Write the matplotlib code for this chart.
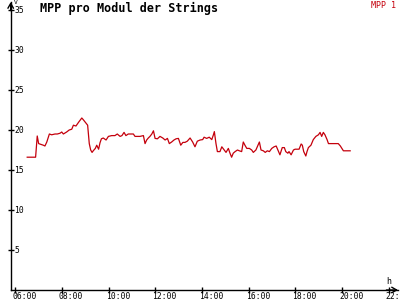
import matplotlib
matplotlib.use("Agg")
import matplotlib.pyplot as plt
import matplotlib.transforms as mtransforms

# Uhrzeit (Stunden) und MPP-Spannung
hours = [6.51, 6.87, 6.92, 6.94, 7.00, 7.10, 7.20, 7.27, 7.35, 7.46, 7.56, 7.70, 7.80, 7.92,
         7.99, 8.06, 8.20, 8.31, 8.42, 8.49, 8.60, 8.72, 8.85, 8.91, 9.02, 9.10, 9.17, 9.23,
         9.29, 9.34, 9.43, 9.49, 9.57, 9.63, 9.69, 9.77, 9.89, 9.99, 10.13, 10.27, 10.37,
         10.49, 10.57, 10.66, 10.74, 10.84, 11.06, 11.13, 11.34, 11.49, 11.56, 11.63, 11.70,
         11.77, 11.85, 11.92, 11.99, 12.09, 12.20, 12.32, 12.42, 12.52, 12.60, 12.70, 12.80,
         12.89, 12.99, 13.09, 13.18, 13.27, 13.37, 13.49, 13.60, 13.70, 13.80, 13.92, 14.03,
         14.09, 14.20, 14.31, 14.42, 14.49, 14.53, 14.60, 14.66, 14.77, 14.85, 14.95, 15.03,
         15.13, 15.20, 15.27, 15.34, 15.42, 15.52, 15.60, 15.70, 15.77, 15.84, 15.92, 16.03,
         16.13, 16.20, 16.31, 16.46, 16.53, 16.63, 16.71, 16.80, 16.89, 16.99, 17.09, 17.18,
         17.27, 17.34, 17.44, 17.53, 17.59, 17.68, 17.73, 17.82, 17.92, 17.99, 18.16, 18.25,
         18.30, 18.36, 18.45, 18.50, 18.56, 18.67, 18.77, 18.88, 18.99, 19.06, 19.13, 19.20,
         19.27, 19.36, 19.42, 19.84, 19.93, 20.06, 20.35]
mpp = [16.6, 16.6, 18.5, 19.25, 18.3, 18.2, 18.1, 18.0, 18.5, 19.5, 19.4, 19.5, 19.5, 19.6,
       19.75, 19.5, 19.75, 20.0, 20.1, 20.6, 20.5, 21.0, 21.5, 21.3, 20.9, 20.6, 18.3, 17.5,
       17.2, 17.4, 17.7, 18.1, 17.6, 18.4, 18.9, 19.0, 18.75, 19.2, 19.3, 19.3, 19.5,
       19.2, 19.3, 19.7, 19.3, 19.5, 19.5, 19.2, 19.2, 19.3, 18.3, 18.75, 19.0,
       19.2, 19.5, 19.9, 18.95, 18.9, 19.2, 19.0, 18.75, 18.95, 18.3, 18.5, 18.75,
       18.9, 18.95, 18.1, 18.45, 18.45, 18.6, 19.0, 18.5, 17.9, 18.6, 18.75, 18.8,
       19.1, 18.95, 19.1, 18.8, 19.4, 19.8, 18.3, 17.3, 17.3, 17.9, 17.5, 17.2,
       17.7, 17.1, 16.6, 17.1, 17.3, 17.5, 17.4, 17.3, 18.5, 18.1, 17.7, 17.7,
       17.5, 17.2, 17.5, 18.5, 17.5, 17.4, 17.2, 17.4, 17.3, 17.7, 17.9, 18.0,
       17.4, 16.9, 17.8, 17.8, 17.3, 17.1, 17.3, 16.9, 17.5, 17.6, 17.6, 18.25,
       18.1, 17.3, 16.75, 17.3, 17.8, 18.1, 18.8, 19.2, 19.4, 19.7, 19.2, 19.7,
       19.4, 18.8, 18.3, 18.3, 18.0, 17.4, 17.4]

xticks = [6, 8, 10, 12, 14, 16, 18, 20, 22]
xticklabels = ["06:00", "08:00", "10:00", "12:00", "14:00", "16:00", "18:00", "20:00", "22:00"]
yticks = [5, 10, 15, 20, 25, 30, 35]

mono = "DejaVu Sans Mono"
red = "#c4000c"

fig = plt.figure(figsize=(4, 3), dpi=100)
ax = fig.add_axes([10.7 / 400, 10 / 300, (398 - 10.7) / 400, 288 / 300])
ax.set_xlim(5.803, 22.40)
ax.set_ylim(0, 36)

ax.plot(hours, mpp, color=red, linewidth=0.9)

for s in ["top", "right"]:
    ax.spines[s].set_visible(False)
for s in ["left", "bottom"]:
    ax.spines[s].set_linewidth(1.0)

ax.set_xticks(xticks)
ax.set_yticks(yticks)
ax.set_xticklabels([])
ax.set_yticklabels([])
ax.tick_params(direction="inout", length=5, width=1, color="black")

# Beschriftungen der Achsen
off = mtransforms.ScaledTranslation(-3 / 100, -2 / 100, fig.dpi_scale_trans)
for t, lab in zip(xticks, xticklabels):
    ax.text(t, 0, lab, transform=ax.transData + off, ha="left", va="top",
            fontsize=5.8, family=mono, clip_on=False)
yoff = mtransforms.ScaledTranslation(3.5 / 100, -0.5 / 100, fig.dpi_scale_trans)
btr = mtransforms.blended_transform_factory(ax.transAxes, ax.transData)
for v in yticks:
    ax.text(0, v, str(v), transform=btr + yoff, ha="left", va="center",
            fontsize=5.8, family=mono, clip_on=False)

# Pfeile an den Achsen (offen)
arrow = dict(arrowstyle="->,head_length=0.35,head_width=0.2", lw=1, color="black",
             shrinkA=0, shrinkB=0)
ax.annotate("", xy=(0, 1.0), xytext=(0, 0.97), xycoords="axes fraction", arrowprops=arrow)
ax.annotate("", xy=(1.0, 0), xytext=(0.97, 0), xycoords="axes fraction", arrowprops=arrow)

fig.text(14 / 400, 1 - 0.5 / 300, "V", fontsize=4.5, family=mono, va="top", ha="left")
fig.text(386 / 400, 1 - 281 / 300, "h", fontsize=6, family=mono, va="center", ha="left")

fig.text(40 / 400, 1 - 8 / 300, "MPP pro Modul der Strings", fontsize=8.5, family=mono,
         fontweight="bold", va="center", ha="left")
fig.text(396 / 400, 1 - 1 / 300, "MPP 1", fontsize=6, family=mono, color=red,
         va="top", ha="right")

fig.savefig("out.png", dpi=100)
